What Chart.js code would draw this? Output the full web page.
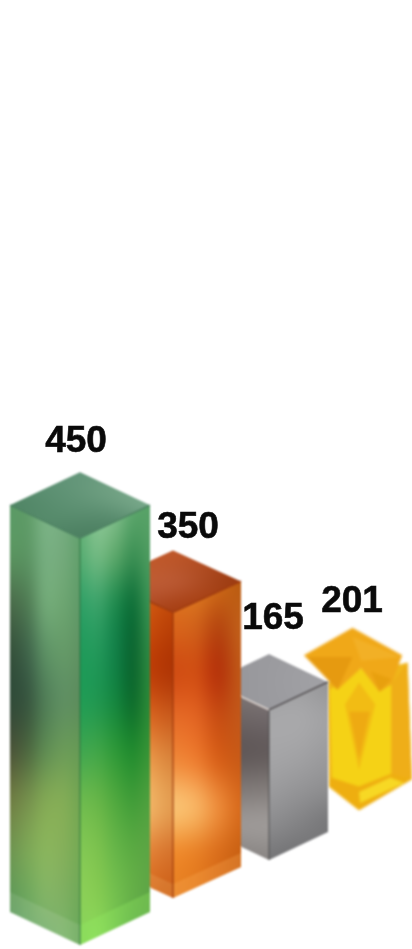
<!DOCTYPE html>
<html>
<head>
<meta charset="utf-8">
<script src="https://cdn.jsdelivr.net/npm/chart.js@4"></script>
<style>
body{margin:0;background:#fff}
canvas{display:block}
</style>
</head>
<body>
<canvas id="myChart" width="412" height="949"></canvas>
<script>
var categories=["A","B","C","D"];
var values=[450,350,165,201];
// the picture is not to scale and the bars float, so these are the extents as drawn, in axis units
var drawnFrom=[0,52,94,149];
var drawnTo=[450,368,260,280];
var yMax=1045;

// looks, one entry per bar
var barWidths=[140,136,118,102];
var leftShare=[.5,.5,.5,.54];
var depth=[33,31,28,32];
var nudgeX=[0,0,3,0];
var labelDx=[-4,15,7,-7];
var labelDy=[86,74,81,80];

var greenLeft=[
 ["#5b9a66","#5f9c68","#7cb486","#76ae82","#64a272"],
 ["#5a9660","#5c9664","#76ae80","#74aa7c","#62a06c"],
 ["#4a6b4a","#507c54","#72aa78","#6ea672","#5f9a68"],
 ["#34503a","#3f644a","#5c9064","#659a68","#5f9262"],
 ["#2f4a38","#37553f","#4f7c56","#5e8e62","#5c8c5c"],
 ["#4a5238","#4c663f","#5d8a52","#6a9a58","#669a55"],
 ["#6f7c42","#758f4c","#82a854","#84ad56","#72a552"],
 ["#6f9450","#7da756","#8ab55c","#86b05a","#75aa54"],
 ["#609a58","#6ea85e","#82b466","#7fb062","#6fa958"],
 ["#5a9a62","#6aa86a","#72ad6c","#7ab56a","#6aa85a"]
];
var greenRight=[
 ["#6aae78","#8cc898","#84c090","#5fa86e","#58a268"],
 ["#58ad72","#76bb84","#5fa96c","#3d9155","#4f9c60"],
 ["#2fa066","#3ca36a","#1f8a4e","#0e6f38","#3c9454"],
 ["#1f9a5a","#22985a","#128048","#0b6530","#2f8a44"],
 ["#1f9c55","#1f9650","#14853f","#0d6b2c","#2c8a38"],
 ["#3ea650","#3fa548","#2d9838","#1f8a2e","#389436"],
 ["#6cba4e","#66b548","#4fa83e","#3f9c38","#4fa03e"],
 ["#82c854","#7cc24e","#66b548","#5aaa42","#5ca544"],
 ["#8cd058","#86cc52","#74c04e","#66b048","#5ea546"],
 ["#86d35a","#8cdc5c","#76c452","#5aa84a","#5a9e4a"]
];
var greenTop=[
 ["#4f8464","#5c9072","#64967a"],
 ["#558a6a","#5f9274","#72a284"],
 ["#4b7e60","#55886a","#7aaa8c"]
];
var orangeLeft=[
 ["#d96a1a","#d96a1a","#c9500c"],
 ["#cd4f0d","#cf520e","#b83f06"],
 ["#c23f06","#c33f06","#ad3304"],
 ["#e07028","#e06b23","#c85a1c"],
 ["#f3a656","#f2a553","#d9853c"],
 ["#f8c474","#f8c272","#e39c50"],
 ["#e8873a","#e8873a","#d4702a"],
 ["#d96a1c","#d96a1c","#cc5f16"]
];
var orangeRight=[
 ["#df7a1f","#e07f22","#cf6d18","#b85a10"],
 ["#d9651b","#d0611a","#b5450f","#c2611a"],
 ["#cf4a12","#d04d12","#b4300a","#c05a18"],
 ["#e56a26","#e26422","#c74c12","#c2581a"],
 ["#f08a3a","#ee7e30","#d86018","#c85a16"],
 ["#fbc878","#f9b968","#ee8e3c","#d86a1c"],
 ["#f0892a","#e87f24","#d96c1a","#c86012"],
 ["#e58226","#e27c20","#d56e1a","#c86014"]
];
var orangeTop=[
 ["#c5602c","#c05a2c","#c0582a"],
 ["#b8552f","#bb5a34","#ae4a1f"],
 ["#a63e12","#a84216","#9a3a10"]
];
var greyLeft=[
 ["#7f7775","#8a8280"],
 ["#6a6260","#70686a"],
 ["#5a5252","#625a5a"],
 ["#7a7472","#827c7a"],
 ["#9c9896","#a09c9a"],
 ["#7e7a78","#8a8684"]
];
var greyRight=[
 ["#9a9a9c","#9e9ea0","#959597"],
 ["#a8a8aa","#a9a9ab","#a2a2a4"],
 ["#a6a6a8","#a3a3a5","#9b9b9d"],
 ["#9c9c9e","#959597","#8e8e90"],
 ["#8c8c8e","#828284","#767678"],
 ["#757577","#707072","#7a7a7c"]
];
var greyTop=[
 ["#959599","#9a9a9e"],
 ["#9a9a9e","#a2a2a6"]
];
// bottom facet of the glass bars: height, left colour, right colour
var bottomFacet=[
 [20,"rgba(255,255,255,.10)","rgba(150,240,100,.30)"],
 [14,"rgba(255,220,150,.15)","rgba(255,180,90,.25)"],
 null,null
];
// gem facets of the yellow bar, fractions of the bar box (x across, y from apex to base)
var gemFacets=[
 ["#f0b61a",[[.22,.3],[.96,.19],[1,.83],[.51,1],[.23,.87]]],
 ["#f5d216",[[.24,.34],[.53,.22],[.81,.31],[.81,.8],[.51,.9],[.26,.82]]],
 ["#f0a818",[[0,.15],[.45,0],[.91,.15],[.81,.31],[.7,.35],[.53,.22],[.31,.34]]],
 ["#f2b026",[[.45,.05],[.9,.16],[.53,.18]]],
 ["#e69a10",[[.03,.16],[.45,.16],[.31,.34]]],
 ["#e8a00e",[[.62,.24],[.7,.35],[.81,.28]]],
 ["#f2bc14",[[.38,.42],[.51,.3],[.66,.42],[.51,.78]]],
 ["#eeaa12",[[.42,.46],[.61,.46],[.51,.72]]],
 ["#efae18",[[.81,.31],[.96,.19],[1,.83],[.81,.8]]],
 ["#eeae10",[[.25,.82],[.51,.87],[.81,.8],[1,.83],[.51,1],[.23,.87]]],
 ["#f7d824",[[.51,.9],[.8,.82],[.93,.85],[.52,.96]]]
];

function makeTexture(grid){
  var c=document.createElement("canvas");
  c.width=grid[0].length;c.height=grid.length;
  var g=c.getContext("2d");
  grid.forEach(function(row,y){row.forEach(function(col,x){g.fillStyle=col;g.fillRect(x,y,1,1);});});
  return c;
}
function polyPath(ctx,pts){
  ctx.beginPath();
  pts.forEach(function(p,i){i?ctx.lineTo(p[0],p[1]):ctx.moveTo(p[0],p[1]);});
  ctx.closePath();
}
// a=first corner, b=next corner, d=corner the other way, the texture is stretched over that frame
function drawFace(ctx,pts,a,b,d,grid){
  var tex=makeTexture(grid);
  ctx.save();
  polyPath(ctx,pts);
  ctx.clip();
  ctx.transform(b[0]-a[0],b[1]-a[1],d[0]-a[0],d[1]-a[1],a[0],a[1]);
  ctx.imageSmoothingEnabled=true;
  ctx.imageSmoothingQuality="high";
  ctx.drawImage(tex,.5,.5,tex.width-1,tex.height-1,0,0,1,1);
  ctx.restore();
}
function line(ctx,p,q,col,w){
  ctx.strokeStyle=col;ctx.lineWidth=w;
  ctx.beginPath();ctx.moveTo(p[0],p[1]);ctx.lineTo(q[0],q[1]);ctx.stroke();
}
function drawCuboid(ctx,bar,i,left,right,top,edge,topEdge){
  var x=bar.x+nudgeX[i],lw=bar.width*leftShare[i],rw=bar.width-lw,dy=depth[i];
  var y=bar.y,b=bar.base;
  var L=[x-lw,y-dy],R=[x+rw,y-dy],F=[x,y],A=[x,y-2*dy];
  var LB=[x-lw,b-dy],RB=[x+rw,b-dy],FB=[x,b];
  // side colours run level with the page, not along the slant of the face
  drawFace(ctx,[L,F,FB,LB],L,[x,L[1]],[L[0],b],left);
  drawFace(ctx,[F,R,RB,FB],[x,R[1]],R,[x,b],right);
  drawFace(ctx,[L,A,R,F],L,A,F,top);
  var f=bottomFacet[i];
  if(f){
    ctx.fillStyle=f[1];
    polyPath(ctx,[LB,FB,[x,b-f[0]],[L[0],LB[1]-f[0]]]);ctx.fill();
    ctx.fillStyle=f[2];
    polyPath(ctx,[FB,RB,[R[0],RB[1]-f[0]],[x,b-f[0]]]);ctx.fill();
  }
  line(ctx,F,FB,edge,1.5);
  line(ctx,L,F,topEdge[0],1.5);
  line(ctx,F,R,topEdge[1],1.5);
}
function drawGem(ctx,bar,i){
  var left=bar.x-bar.width*leftShare[i],top=bar.y-2*depth[i],h=bar.base-top;
  gemFacets.forEach(function(f){
    ctx.fillStyle=f[0];
    polyPath(ctx,f[1].map(function(p){return [left+p[0]*(bar.width+6),top+p[1]*h];}));
    ctx.fill();
  });
}

var bars3d={
  id:"bars3d",
  afterDatasetDraw:function(chart,args){
    var i=args.index,bar=chart.getDatasetMeta(i).data[i],ctx=chart.ctx;
    var layer=document.createElement("canvas");
    layer.width=chart.width;layer.height=chart.height;
    var g=layer.getContext("2d");
    if(i==0) drawCuboid(g,bar,i,greenLeft,greenRight,greenTop,"rgba(40,110,60,.6)",["#4b8060","#4b8060"]);
    if(i==1) drawCuboid(g,bar,i,orangeLeft,orangeRight,orangeTop,"rgba(150,50,10,.7)",["#a03c10","#a03c10"]);
    if(i==2) drawCuboid(g,bar,i,greyLeft,greyRight,greyTop,"rgba(60,60,60,.5)",["#e8ded8","#4e4a4c"]);
    if(i==3) drawGem(g,bar,i);
    ctx.save();
    ctx.filter=i==3?"blur(1.6px)":"blur(.8px)";
    ctx.drawImage(layer,0,0);
    ctx.restore();
  },
  afterDatasetsDraw:function(chart){
    var ctx=chart.ctx;
    ctx.save();
    ctx.font="bold 37px 'Liberation Sans'";
    ctx.fillStyle="#0a0a0a";
    ctx.strokeStyle="#0a0a0a";
    ctx.lineWidth=.6;
    ctx.textAlign="center";
    values.forEach(function(v,i){
      var bar=chart.getDatasetMeta(i).data[i];
      ctx.fillText(String(v),bar.x+labelDx[i],bar.y-labelDy[i]);
      ctx.strokeText(String(v),bar.x+labelDx[i],bar.y-labelDy[i]);
    });
    ctx.restore();
  }
};

new Chart("myChart",{
  type:"bar",
  data:{
    labels:categories,
    datasets:categories.map(function(c,d){
      return {
        data:categories.map(function(_,i){return i==d?[drawnFrom[i],drawnTo[i]]:null;}),
        barThickness:barWidths[d],
        grouped:false,
        backgroundColor:"transparent"
      };
    })
  },
  options:{
    responsive:false,
    animation:false,
    layout:{padding:{left:33.5,right:6.5,top:0,bottom:4}},
    plugins:{legend:{display:false},tooltip:{enabled:false}},
    scales:{
      x:{display:false},
      y:{display:false,min:0,max:yMax}
    }
  },
  plugins:[bars3d]
});
</script>
</body>
</html>
